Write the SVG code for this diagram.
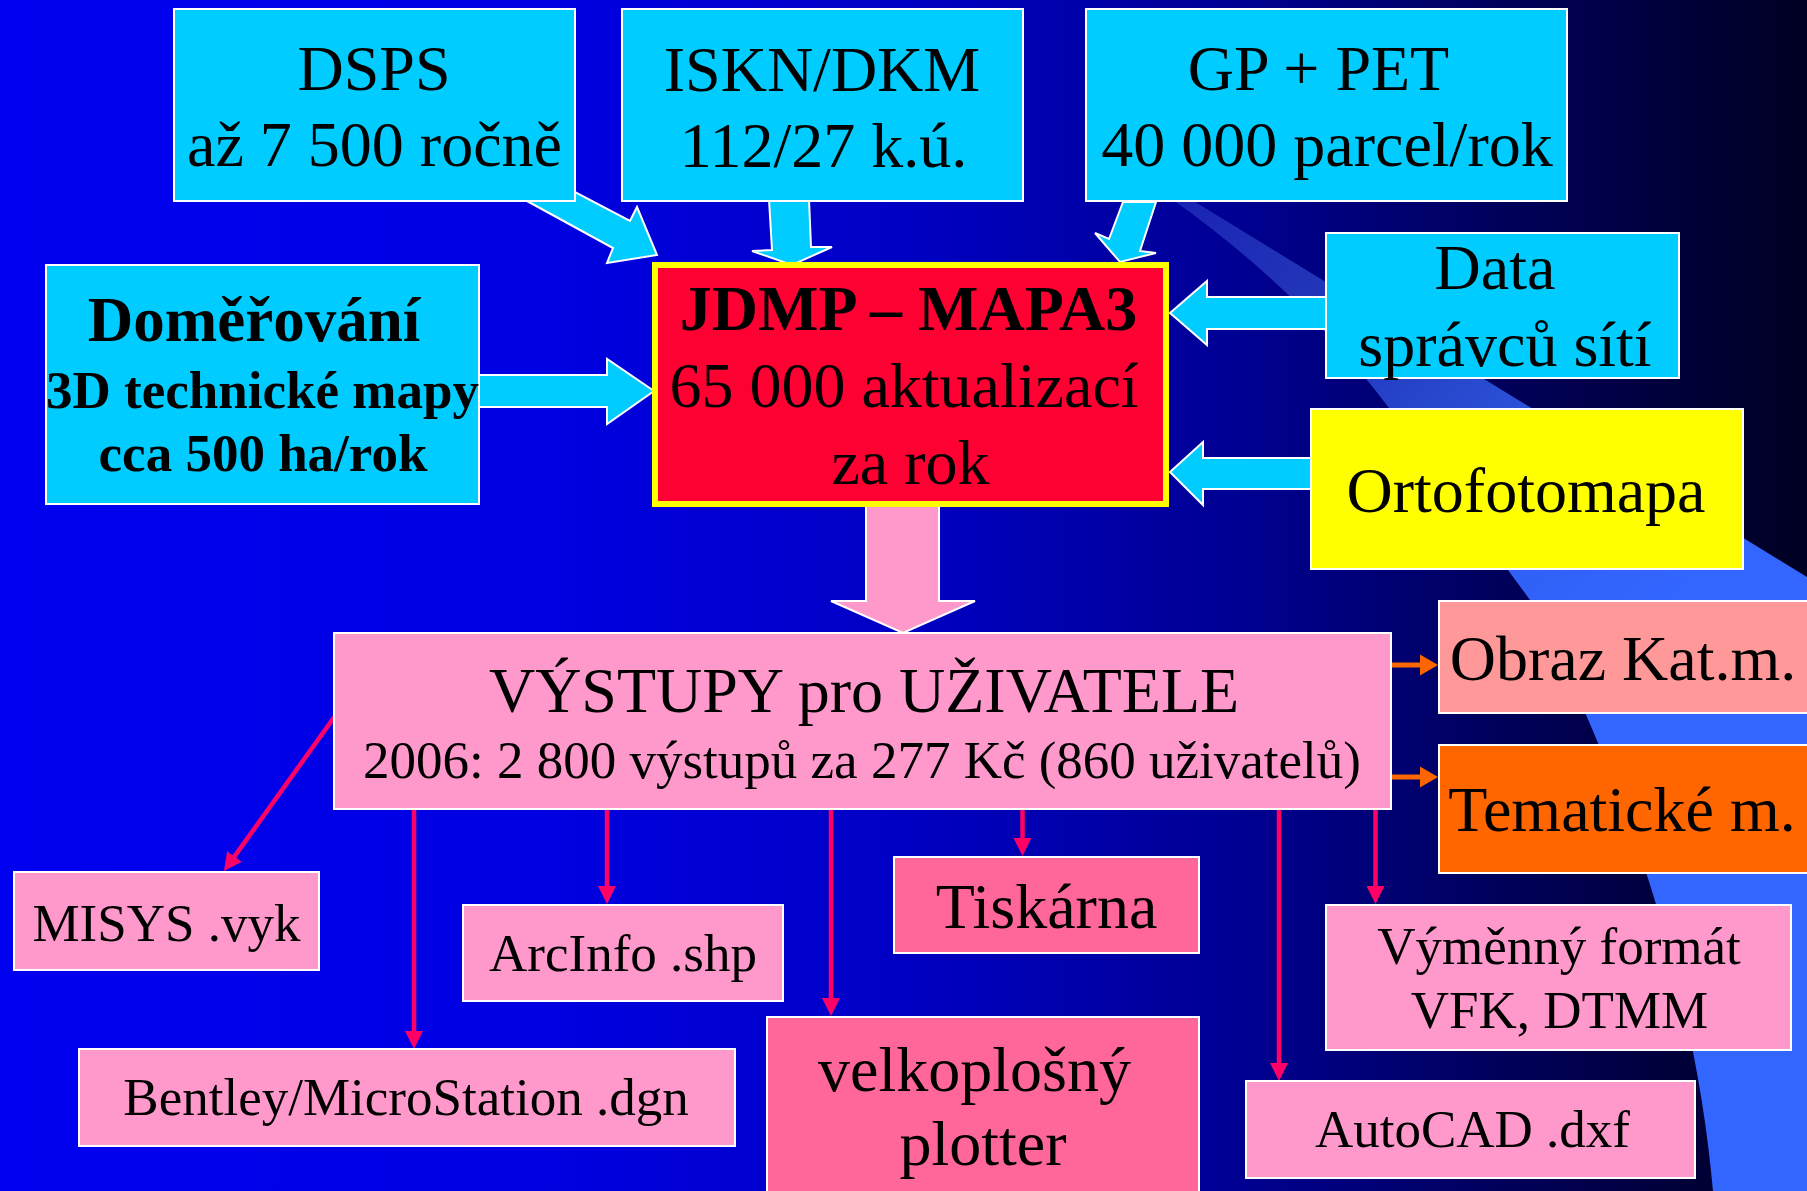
<svg xmlns="http://www.w3.org/2000/svg" width="1807" height="1191" viewBox="0 0 1807 1191">
<defs>
<linearGradient id="bg" x1="0" y1="0" x2="1807" y2="0" gradientUnits="userSpaceOnUse">
<stop offset="0" stop-color="#0000F0"/>
<stop offset="0.3" stop-color="#0000E2"/>
<stop offset="0.5" stop-color="#0000C4"/>
<stop offset="0.68" stop-color="#000094"/>
<stop offset="0.84" stop-color="#000058"/>
<stop offset="1" stop-color="#000022"/>
</linearGradient>
<linearGradient id="beam" x1="1180" y1="200" x2="1650" y2="620" gradientUnits="userSpaceOnUse">
<stop offset="0" stop-color="#5577EE" stop-opacity="0.3"/>
<stop offset="0.4" stop-color="#3a66f5" stop-opacity="0.6"/>
<stop offset="0.8" stop-color="#3366FF" stop-opacity="0.95"/>
<stop offset="1" stop-color="#3366FF" stop-opacity="1"/>
</linearGradient>
<marker id="pk" markerUnits="userSpaceOnUse" markerWidth="18" markerHeight="18" refX="8" refY="9" orient="auto">
<path d="M0,0 L18,9 L0,18 z" fill="#FF0066"/>
</marker>
<marker id="or" markerUnits="userSpaceOnUse" markerWidth="18" markerHeight="22" refX="8" refY="11" orient="auto">
<path d="M0,0.5 L18,11 L0,21.5 z" fill="#FF6600"/>
</marker>
</defs>
<style>
.t{font-family:"Liberation Serif","Times New Roman",serif;fill:#000;text-anchor:middle}
.b{font-weight:bold}
.L{font-size:64px}
.S{font-size:53px}
.box{stroke:#FFFFFF;stroke-width:2}
.cy{fill:#00CCFF}
.pk{fill:#FF99CC}
.hp{fill:#FF6699}
.blk{stroke:#FFFFFF;stroke-width:2;stroke-linejoin:miter}
.ln{stroke:#FF0066;stroke-width:4.5;fill:none;marker-end:url(#pk)}
.ol{stroke:#FF6600;stroke-width:5;fill:none;marker-end:url(#or)}
</style>
<rect x="0" y="0" width="1807" height="1191" fill="url(#bg)"/>
<path d="M1173,200 Q1300,290 1389,408 L1530,600 C1585,700 1690,930 1713,1191 L1807,1191 L1807,577 L1192,200 Z" fill="url(#beam)"/>

<g id="connectors">
<polygon class="blk cy" points="527,201 613,248 607,263 657,255 637,207 630,221 575,192"/>
<polygon class="blk cy" points="769,199 772,250 752,251 792,265 832,247 811,247 809,199"/>
<polygon class="blk cy" points="1123,202 1109,239 1095,233 1120,262 1156,253 1140,251 1156,202"/>
<polygon class="blk cy" points="479,375 607,375 607,359 654,391 607,424 607,407 479,407"/>
<polygon class="blk cy" points="1326,297 1207,297 1207,281 1170,313 1207,345 1207,329 1326,329"/>
<polygon class="blk cy" points="1311,458 1203,458 1203,442 1170,472 1203,505 1203,489 1311,489"/>
<polygon class="blk pk" points="866,505 866,601 831,601 903,633 975,601 939,601 939,505"/>
<line class="ln" x1="335" y1="716" x2="229.8" y2="862.9"/>
<line class="ln" x1="414" y1="810" x2="414" y2="1039"/>
<line class="ln" x1="607" y1="810" x2="607" y2="894"/>
<line class="ln" x1="831" y1="810" x2="831" y2="1006"/>
<line class="ln" x1="1022.5" y1="810" x2="1022.5" y2="846"/>
<line class="ln" x1="1279" y1="810" x2="1279" y2="1071"/>
<line class="ln" x1="1375.5" y1="810" x2="1375.5" y2="894"/>
<line class="ol" x1="1392" y1="665" x2="1428" y2="665"/>
<line class="ol" x1="1392" y1="777" x2="1428" y2="777"/>
</g>

<g id="dsps">
<rect class="box cy" x="174" y="9" width="401" height="192"/>
<text class="t L" x="374" y="90">DSPS</text>
<text class="t L" x="374.5" y="166">až 7 500 ročně</text>
</g>
<g id="iskn">
<rect class="box cy" x="622" y="9" width="401" height="192"/>
<text class="t L" x="822" y="91">ISKN/DKM</text>
<text class="t L" x="823.5" y="167">112/27 k.ú.</text>
</g>
<g id="gppet">
<rect class="box cy" x="1086" y="9" width="481" height="192"/>
<text class="t L" x="1318.5" y="90">GP + PET</text>
<text class="t L" x="1327" y="166">40 000 parcel/rok</text>
</g>
<g id="domerovani">
<rect class="box cy" x="46" y="265" width="433" height="239"/>
<text class="t b" style="font-size:63px" x="254" y="341">Doměřování</text>
<text class="t b S" x="262.5" y="408">3D technické mapy</text>
<text class="t b S" x="263" y="471">cca 500 ha/rok</text>
</g>
<g id="jdmp">
<rect x="655" y="265" width="511" height="239" fill="#FF0033" stroke="#FFFF00" stroke-width="6"/>
<text class="t b L" x="908.5" y="330">JDMP – MAPA3</text>
<text class="t L" x="904" y="407">65 000 aktualizací</text>
<text class="t L" x="910.5" y="484">za rok</text>
</g>
<g id="data">
<rect class="box cy" x="1326" y="233" width="353" height="145"/>
<text class="t L" x="1495" y="289">Data</text>
<text class="t L" x="1505" y="366">správců sítí</text>
</g>
<g id="orto">
<rect class="box" fill="#FFFF00" x="1311" y="409" width="432" height="160"/>
<text class="t L" x="1526" y="512">Ortofotomapa</text>
</g>
<g id="vystupy">
<rect class="box pk" x="334" y="633" width="1057" height="176"/>
<text class="t L" x="864" y="712">VÝSTUPY pro UŽIVATELE</text>
<text class="t S" x="862" y="778">2006: 2 800 výstupů za 277 Kč (860 uživatelů)</text>
</g>
<g id="obraz">
<rect class="box" fill="#FF9999" x="1439" y="601" width="370" height="112"/>
<text class="t L" x="1623" y="680">Obraz Kat.m.</text>
</g>
<g id="tematicke">
<rect class="box" fill="#FF6600" x="1439" y="745" width="370" height="128"/>
<text class="t L" x="1622" y="831">Tematické m.</text>
</g>
<g id="misys">
<rect class="box pk" x="14" y="872" width="305" height="98"/>
<text class="t S" x="166.5" y="941">MISYS .vyk</text>
</g>
<g id="arcinfo">
<rect class="box pk" x="463" y="905" width="320" height="96"/>
<text class="t S" x="623" y="971">ArcInfo .shp</text>
</g>
<g id="tiskarna">
<rect class="box hp" x="894" y="857" width="305" height="96"/>
<text class="t L" x="1046.5" y="928">Tiskárna</text>
</g>
<g id="vymenny">
<rect class="box pk" x="1326" y="905" width="465" height="145"/>
<text class="t S" x="1559" y="964">Výměnný formát</text>
<text class="t S" x="1559.5" y="1028">VFK, DTMM</text>
</g>
<g id="bentley">
<rect class="box pk" x="79" y="1049" width="656" height="97"/>
<text class="t S" x="406" y="1115">Bentley/MicroStation .dgn</text>
</g>
<g id="plotter">
<rect class="box hp" x="767" y="1017" width="432" height="190"/>
<text class="t L" x="974.5" y="1091">velkoplošný</text>
<text class="t L" x="983" y="1165">plotter</text>
</g>
<g id="autocad">
<rect class="box pk" x="1246" y="1081" width="449" height="97"/>
<text class="t S" x="1472.5" y="1147">AutoCAD .dxf</text>
</g>
</svg>
